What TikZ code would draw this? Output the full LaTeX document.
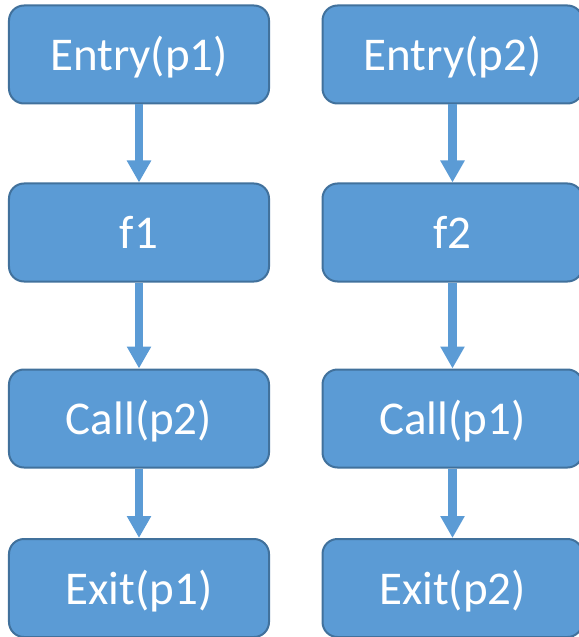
\documentclass[tikz,border=0pt]{standalone}
\usepackage{fontspec}
\setmainfont{Carlito}
\usetikzlibrary{arrows.meta}
\definecolor{boxfill}{HTML}{5B9BD5}
\definecolor{boxline}{HTML}{41719C}
\begin{document}
\begin{tikzpicture}[x=1bp,y=-1bp,
  stepbox/.style={draw=boxline, line width=2bp, fill=boxfill, rounded corners=15bp,
    minimum width=260bp, minimum height=98bp, inner sep=0pt,
    text=white, font=\fontsize{47bp}{50bp}\selectfont, text height=32.4bp, text depth=0bp},
  flow/.style={draw=boxfill, line width=8.3bp, -{Triangle[width=23bp,length=22bp]}, shorten >=0pt}
]
\useasboundingbox (0,0) rectangle (579,637);
\clip (0,0) rectangle (579,637);
\node[stepbox] (e1) at (139,54.5) {Entry(p1)};
\node[stepbox] (f1) at (139,232.5) {f1};
\node[stepbox] (c1) at (139,418.5) {Call(p2)};
\node[stepbox] (x1) at (139,588) {Exit(p1)};
\node[stepbox] (e2) at (452.5,54.5) {Entry(p2)};
\node[stepbox] (f2) at (452.5,232.5) {f2};
\node[stepbox] (c2) at (452.5,418.5) {Call(p1)};
\node[stepbox] (x2) at (452.5,588) {Exit(p2)};
\draw[flow] (e1.south) -- (f1.north);
\draw[flow] (f1.south) -- (c1.north);
\draw[flow] (c1.south) -- (x1.north);
\draw[flow] (e2.south) -- (f2.north);
\draw[flow] (f2.south) -- (c2.north);
\draw[flow] (c2.south) -- (x2.north);
\end{tikzpicture}
\end{document}
